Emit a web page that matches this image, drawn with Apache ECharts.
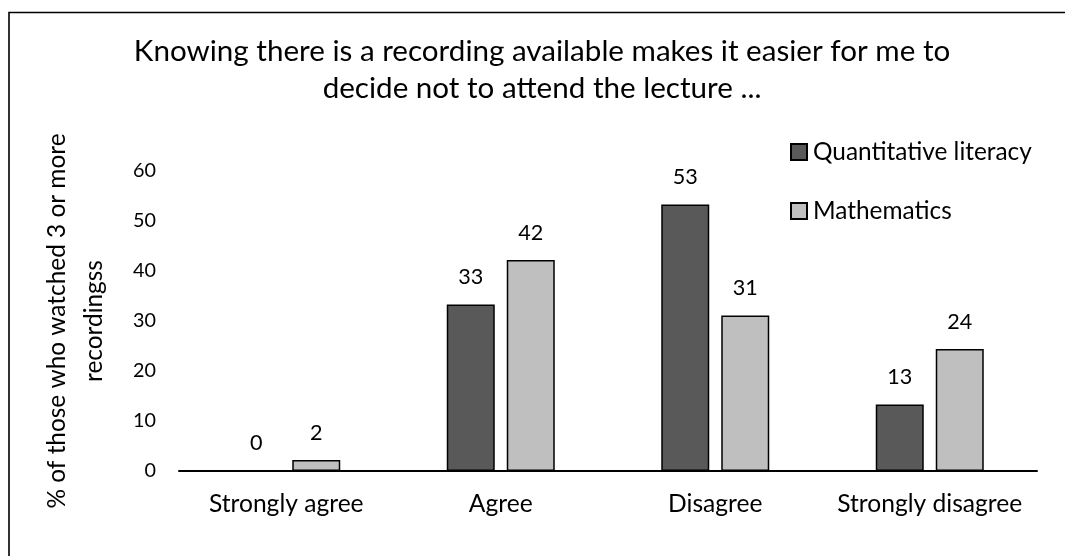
<!DOCTYPE html>
<html>
<head>
<meta charset="utf-8">
<script src="https://cdn.jsdelivr.net/npm/echarts@6/dist/echarts.min.js"></script>
<style>
html,body{margin:0;padding:0;background:#fff;}
#chart{width:1065px;height:556px;}
</style>
</head>
<body>
<div id="chart"></div>
<script>
const categories = ['Strongly agree', 'Agree', 'Disagree', 'Strongly disagree'];
const seriesNames = ['Quantitative literacy', 'Mathematics'];
const quantitativeLiteracy = [0, 33.3, 53.3, 13.3];
const mathematics = [2.2, 42.2, 31.1, 24.4];
const yTicks = [0, 10, 20, 30, 40, 50, 60];
const titleLines = ['Knowing there is a recording available makes it easier for me to', 'decide not to attend the lecture ...'];
const yAxisNameLines = ['% of those who watched 3 or more', 'recordingss'];

const FAMILY = 'Lato';
const ctx = document.createElement('canvas').getContext('2d');
function fit(str, target) {
  ctx.font = '100px ' + FAMILY;
  return Math.round(target / ctx.measureText(str).width * 1000) / 10;
}
const fsTitle = fit(titleLines[0], 816);
const fsCat = fit('Strongly agree', 155);
const fsLegend = fit('Quantitative literacy', 219);
const fsYName = fit(yAxisNameLines[0], 375);
const fsTick = fit('60', 23);
const fsData = fit('33', 25);

const chart = echarts.init(document.getElementById('chart'), null, {renderer: 'canvas'});
const labelFmt = p => Math.round(p.value);
const option = {
  backgroundColor: '#fff',
  animation: false,
  textStyle: {fontFamily: FAMILY, color: '#000'},
  graphic: [{
    type: 'rect', z: -10, silent: true,
    shape: {x: 9, y: 12.5, width: 1100, height: 600},
    style: {fill: 'none', stroke: '#000', lineWidth: 1.6}
  }, {
    type: 'text', silent: true,
    x: 542, y: 33,
    style: {
      text: titleLines.join('\n'),
      align: 'center', verticalAlign: 'top',
      fontFamily: FAMILY, fontSize: fsTitle, lineHeight: 37, fill: '#000'
    }
  }],
  legend: {
    orient: 'vertical',
    left: 785,
    top: 132,
    itemWidth: 16,
    itemHeight: 16,
    itemGap: 29,
    icon: 'rect',
    textStyle: {fontFamily: FAMILY, fontSize: fsLegend, color: '#000', lineHeight: 30, padding: [0, 0, 0, 1]},
    data: seriesNames
  },
  grid: {left: 179, right: 28, top: 171, bottom: 85, containLabel: false},
  xAxis: {
    type: 'category',
    data: categories,
    axisLine: {lineStyle: {color: '#000', width: 2}},
    axisTick: {show: false},
    axisLabel: {interval: 0, fontFamily: FAMILY, fontSize: fsCat, color: '#000', margin: 18, lineHeight: 30}
  },
  yAxis: {
    type: 'value',
    min: 0, max: 60, interval: 10,
    name: yAxisNameLines.join('\n'),
    nameLocation: 'middle',
    nameRotate: 90,
    nameGap: 66,
    nameTextStyle: {fontFamily: FAMILY, fontSize: fsYName, color: '#000', lineHeight: 37},
    axisLine: {show: false},
    axisTick: {show: false},
    splitLine: {show: false},
    axisLabel: {fontFamily: FAMILY, fontSize: fsTick, color: '#000', margin: 23,
      formatter: v => (yTicks.indexOf(v) >= 0 ? String(v) : '')}
  },
  series: [
    {
      name: seriesNames[0], type: 'bar', data: quantitativeLiteracy,
      barWidth: 48, barGap: '25%',
      itemStyle: {color: '#595959', borderColor: '#000', borderWidth: 1.5},
      label: {show: true, position: 'top', distance: 12, fontFamily: FAMILY, fontSize: fsData, color: '#000', lineHeight: 30, formatter: labelFmt}
    },
    {
      name: seriesNames[1], type: 'bar', data: mathematics,
      barWidth: 48, barGap: '25%',
      itemStyle: {color: '#bfbfbf', borderColor: '#000', borderWidth: 1.5},
      label: {show: true, position: 'top', distance: 12, fontFamily: FAMILY, fontSize: fsData, color: '#000', lineHeight: 30, formatter: labelFmt}
    }
  ]
};
chart.setOption(option);
</script>
</body>
</html>
